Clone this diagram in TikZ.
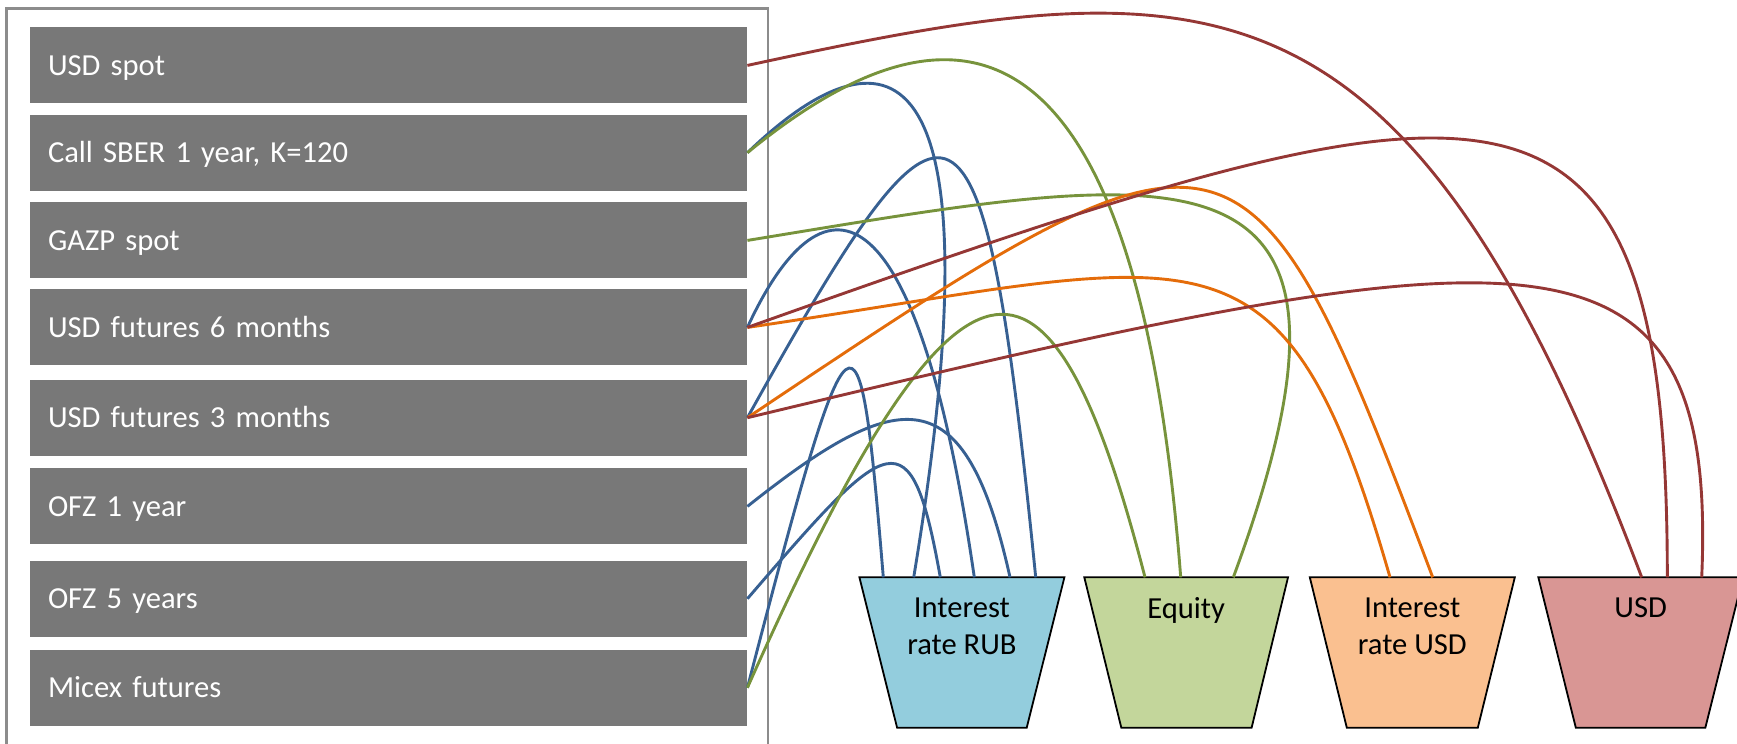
\documentclass[tikz,border=0pt]{standalone}
\usepackage{fontspec}
\setmainfont{Carlito}
\newcommand\diagfont{\fontsize{8.7}{10.5}\selectfont}

\definecolor{boxgray}{HTML}{787878}
\definecolor{framegray}{HTML}{8C8C8C}
\definecolor{cRed}{HTML}{953735}
\definecolor{cBlue}{HTML}{376092}
\definecolor{cGreen}{HTML}{77933C}
\definecolor{cOrange}{HTML}{E46C0A}
\definecolor{fRub}{HTML}{93CDDD}
\definecolor{fEq}{HTML}{C3D69B}
\definecolor{fIru}{HTML}{FAC090}
\definecolor{fUsd}{HTML}{D99694}

\begin{document}
\begin{tikzpicture}[x=0.1mm, y=-0.1mm,
  inbox/.style={rectangle, fill=boxgray, text=white, anchor=north west,
    minimum width=71.67mm, minimum height=7.6mm, text width=68.07mm,
    inner xsep=1.8mm, inner ysep=0mm, align=left,
    text height=2.0mm, text depth=0mm, font=\diagfont},
  bucket/.style={draw=black, line width=0.18mm},
  blab/.style={anchor=north, inner sep=0pt, align=center, font=\diagfont},
  link/.style={line width=0.29mm},
  lred/.style={link, draw=cRed},
  lblue/.style={link, draw=cBlue},
  lgreen/.style={link, draw=cGreen},
  lorange/.style={link, draw=cOrange}]

\useasboundingbox (0,0) rectangle (1737,743);

% container frame (open at the bottom edge)
\draw[framegray, line width=0.27mm] (6.8,760) |- (768,8.3) -- (768,760);

% instruments
\node[inbox] (b1) at (29.3,26.7)  {USD spot};
\node[inbox] (b2) at (29.3,114)   {Call SBER 1 year, K=120};
\node[inbox] (b3) at (29.3,201.7) {GAZP spot};
\node[inbox] (b4) at (29.3,288.7) {USD futures 6 months};
\node[inbox] (b5) at (29.3,379)   {USD futures 3 months};
\node[inbox] (b6) at (29.3,467.7) {OFZ 1 year};
\node[inbox] (b7) at (29.3,560)   {OFZ 5 years};
\node[inbox] (b8) at (29.3,649)   {Micex futures};

% risk-factor buckets
\draw[bucket, fill=fRub] (859.4,577.3) -- (1064.4,577.3) -- (1026.7,727.7) -- (897.1,727.7) -- cycle;
\draw[bucket, fill=fEq]  (1084.3,577.3) -- (1288,577.3) -- (1251.6,727.7) -- (1121.3,727.7) -- cycle;
\draw[bucket, fill=fIru] (1309.8,577.3) -- (1514.8,577.3) -- (1477.8,727.7) -- (1346.8,727.7) -- cycle;
\draw[bucket, fill=fUsd] (1538.3,577.3) -- (1743,577.3) -- (1705.3,727.7) -- (1575.8,727.7) -- cycle;

\node[blab] (lrub) at (961.9,597)  {Interest\\rate RUB};
\node[blab] (leq)  at (1186.2,597) {Equity};
\node[blab] (liru) at (1412.3,597) {Interest\\rate USD};
\node[blab] (lusd) at (1640.6,597) {USD};

% entry points on the bucket rims
\coordinate (rub1) at (883.3,577.3);
\coordinate (rub2) at (913.7,577.3);
\coordinate (rub3) at (940.3,577.3);
\coordinate (rub4) at (974.3,577.3);
\coordinate (rub5) at (1010,577.3);
\coordinate (rub6) at (1035.7,577.3);
\coordinate (eq1)  at (1145,577.3);
\coordinate (eq2)  at (1180.7,577.3);
\coordinate (eq3)  at (1233.3,577.3);
\coordinate (iru1) at (1390,577.3);
\coordinate (iru2) at (1432.7,577.3);
\coordinate (usd1) at (1641.7,577.3);
\coordinate (usd2) at (1667.3,577.3);
\coordinate (usd3) at (1701.7,577.3);

% RUB interest-rate exposures
\draw[lblue] (b2.east) .. controls (880,25)   and (1005,25)    .. (rub2);
\draw[lblue] (b4.east) .. controls (820,170)  and (915,170)    .. (rub4);
\draw[lblue] (b5.east) .. controls (953,48)   and (982.8,48)   .. (rub6);
\draw[lblue] (b6.east) .. controls (900,385)  and (965,375)    .. (rub5);
\draw[lblue] (b7.east) .. controls (890,433)  and (910.6,412)  .. (rub3);
\draw[lblue] (b8.east) .. controls (853,282)  and (858.8,282)  .. (rub1);

% equity exposures
\draw[lgreen] (b2.east) .. controls (940,-5)  and (1135,-20)   .. (eq2);
\draw[lgreen] (b3.east) .. controls (1178,170) and (1402,120)  .. (eq3);
\draw[lgreen] (b8.east) .. controls (960,210) and (1050,210)   .. (eq1);

% USD interest-rate exposures
\draw[lorange] (b4.east) .. controls (1206.7,260) and (1281.3,200) .. (iru1);
\draw[lorange] (b5.east) .. controls (1236.1,90)  and (1246.9,85)  .. (iru2);

% USD exposures
\draw[lred] (b1.east) .. controls (1211,-35) and (1405,-50)   .. (usd1);
\draw[lred] (b4.east) .. controls (1500,60)  and (1667.3,20)  .. (usd2);
\draw[lred] (b5.east) .. controls (1530,230) and (1718,200)   .. (usd3);

\end{tikzpicture}
\end{document}
